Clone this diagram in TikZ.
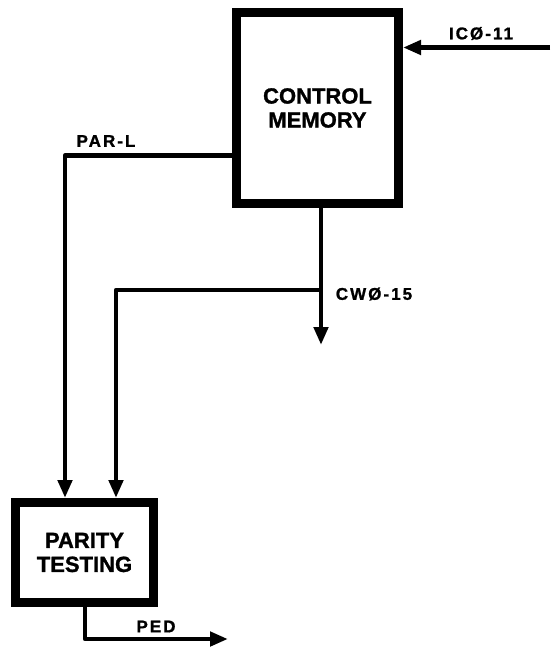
\documentclass[tikz,border=0pt]{standalone}
\usepackage{fontspec}
\setmainfont{Liberation Sans}
\newfontfamily\boxfont[FakeBold=1.2]{Liberation Sans Bold}
\newfontfamily\lblfont[LetterSpace=12, FakeBold=1.2]{Liberation Sans Bold}
\usetikzlibrary{arrows.meta, positioning}

\begin{document}
\begin{tikzpicture}[
    x=1pt, y=-1pt,
    block/.style={draw, line width=9pt, minimum width=162pt, minimum height=191pt,
      align=center, font=\boxfont\fontsize{22}{24}\selectfont},
    sig/.style={line width=4.5pt, line join=round, -{Triangle[length=18pt,width=14pt]}},
    lbl/.style={font=\lblfont\fontsize{17}{19}\selectfont, inner sep=0pt}
  ]
  \useasboundingbox (0,0) rectangle (550,647);

  \node[block] (cm) at (317.5,108) {CONTROL\\MEMORY};
  \node[block, minimum width=138pt, minimum height=100pt] (pt) at (84.5,552.5) {PARITY\\TESTING};

  % input
  \coordinate (icin) at (550,47.5);
  \draw[sig] (icin) -- (icin -| cm.east);
  \node[lbl] (ic) at (481,33.5) {IC\O-11};

  % parity line
  \coordinate (parl) at (65,155.5);
  \draw[sig] (parl -| cm.west) -- (parl) -- (parl |- pt.north);
  \node[lbl] (parlab) at (106,141) {PAR-L};

  % control word
  \coordinate (cwend) at (321,345);
  \coordinate (cwtap) at (321,290);
  \coordinate (cwleft) at (116,290);
  \draw[sig] (cm.south -| cwend) -- (cwend);
  \draw[sig] (cwtap) -- (cwleft) -- (cwleft |- pt.north);
  \node[lbl] (cw) at (374,294) {CW\O-15};

  % parity error
  \coordinate (pedc) at (85,639);
  \draw[sig] (pt.south -| pedc) -- (pedc) -- (228,639);
  \node[lbl] (ped) at (156,626.5) {PED};
\end{tikzpicture}
\end{document}
